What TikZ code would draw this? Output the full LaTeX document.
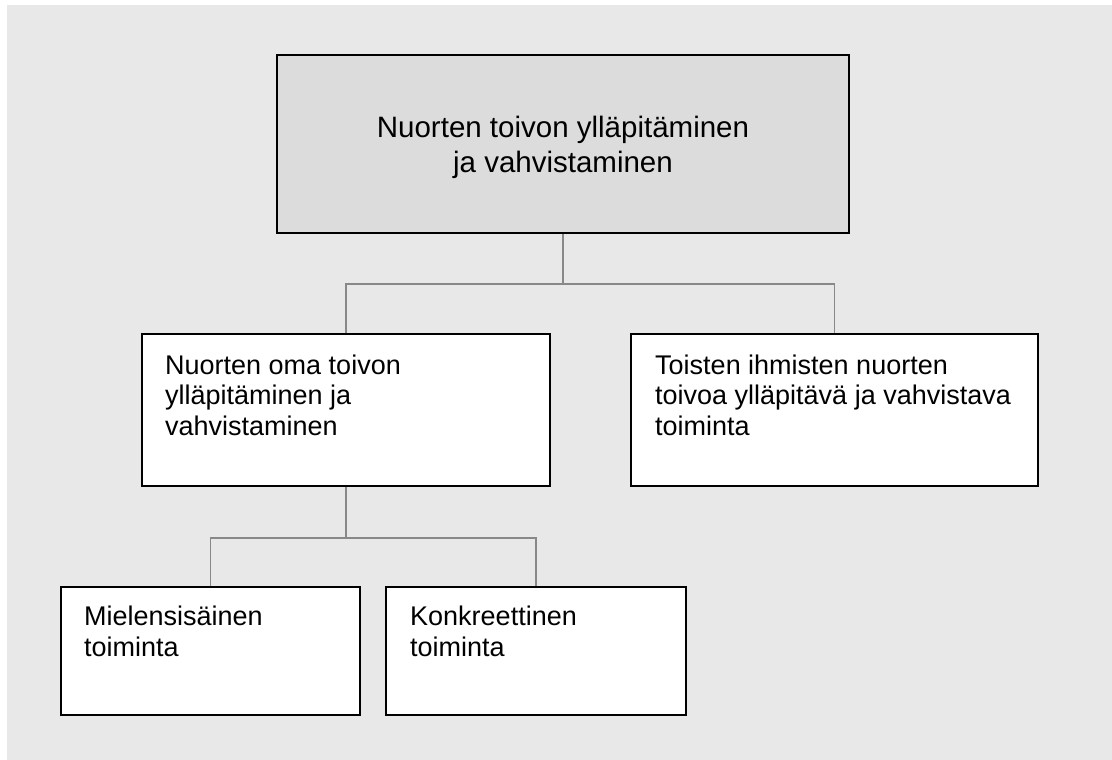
\documentclass[tikz,border=0pt]{standalone}
\usepackage{fontspec}
\setmainfont{Liberation Sans}
\definecolor{bgc}{HTML}{E8E8E8}
\definecolor{topc}{HTML}{DCDCDC}
\definecolor{linec}{HTML}{888888}
\tikzset{
  box/.style={draw=black, line width=1.6pt, fill=white, inner sep=0pt},
  topbox/.style={box, fill=topc},
  conn/.style={draw=linec, line width=1.6pt},
  midtext/.style={inner sep=0pt, align=left, anchor=base west, font=\fontsize{27}{30.5}\selectfont},
  bottext/.style={inner sep=0pt, align=left, anchor=base west, font=\fontsize{27}{30.5}\selectfont},
  toptext/.style={inner sep=0pt, align=center, anchor=base, font=\fontsize{29.5}{35}\selectfont}
}
\begin{document}
\begin{tikzpicture}[x=1pt,y=-1pt]
\useasboundingbox (0,0) rectangle (1112,760);
\fill[white] (0,0) rectangle (1112,760);
\fill[bgc] (7,5) rectangle (1112,760);
% boxes
\node[topbox, minimum width=572pt, minimum height=178pt] (top) at (563,144) {};
\node[box, minimum width=408pt, minimum height=152pt] (lm) at (346,410) {};
\node[box, minimum width=407pt, minimum height=152pt] (rm) at (834.5,410) {};
\node[box, minimum width=299pt, minimum height=128pt] (bl) at (210.5,651) {};
\node[box, minimum width=300pt, minimum height=128pt] (br) at (536,651) {};
% texts (anchor = baseline of the last line)
\node[toptext] (ttop) at (563,172) {Nuorten toivon ylläpitäminen\\ja vahvistaminen};
\node[midtext] (tlm) at (165,435) {Nuorten oma toivon\\ylläpitäminen ja\\vahvistaminen};
\node[midtext] (trm) at (655,435) {Toisten ihmisten nuorten\\toivoa ylläpitävä ja vahvistava\\toiminta};
\node[bottext] (tbl) at (84,656) {Mielensisäinen\\toiminta};
\node[bottext] (tbr) at (410,656) {Konkreettinen\\toiminta};
% connectors
\draw[conn] (top.south) -- ++(0,50) -| (lm.north);
\draw[conn] (top.south) -- ++(0,50) -| (rm.north);
\draw[conn] (lm.south) -- ++(0,51) -| (bl.north);
\draw[conn] (lm.south) -- ++(0,51) -| (br.north);
\end{tikzpicture}
\end{document}
